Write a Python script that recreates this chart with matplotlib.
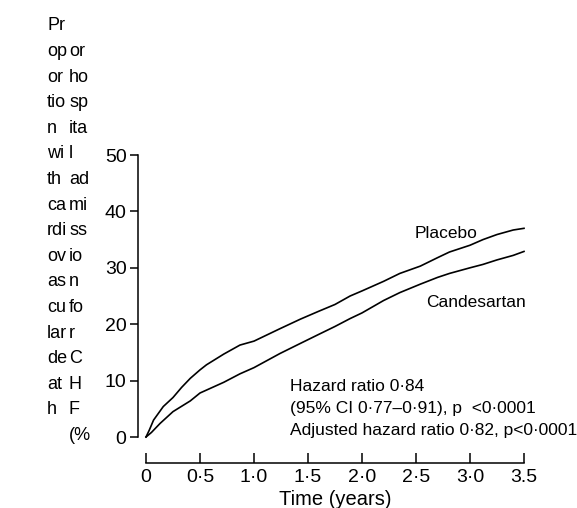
import matplotlib
matplotlib.use("Agg")
import matplotlib.pyplot as plt

plt.rcParams["font.family"] = ["Liberation Sans", "DejaVu Sans"]

# Kaplan-Meier style curves (years, %)
placebo_t = [0, 0.03, 0.07, 0.16, 0.25, 0.33, 0.41, 0.5, 0.56, 0.72, 0.87, 1.0,
             1.24, 1.43, 1.6, 1.75, 1.89, 2.0, 2.2, 2.35, 2.54, 2.7, 2.81, 3.0,
             3.12, 3.25, 3.4, 3.5]
placebo_y = [0, 1.2, 3.0, 5.4, 7.0, 8.8, 10.4, 11.9, 12.8, 14.7, 16.3, 17.0,
             19.2, 20.9, 22.3, 23.5, 25.0, 25.9, 27.6, 29.0, 30.3, 31.8, 32.8, 34.0,
             35.0, 35.9, 36.7, 37.0]
cand_t = [0, 0.05, 0.13, 0.25, 0.41, 0.5, 0.72, 0.87, 1.0, 1.24, 1.43, 1.6,
          1.75, 1.89, 2.0, 2.2, 2.35, 2.54, 2.7, 2.81, 3.0, 3.12, 3.25, 3.4, 3.5]
cand_y = [0, 0.8, 2.4, 4.5, 6.4, 7.8, 9.7, 11.2, 12.3, 14.8, 16.6, 18.2,
          19.6, 21.0, 22.0, 24.2, 25.6, 27.1, 28.3, 29.0, 30.0, 30.6, 31.4, 32.2, 32.9]

x_ticks = [0, 0.5, 1.0, 1.5, 2.0, 2.5, 3.0, 3.5]
x_labels = ["0", "0·5", "1·0", "1·5", "2·0", "2·5", "3·0", "3.5"]
y_ticks = [0, 10, 20, 30, 40, 50]

ylab_col1 = ["Pr", "op", "or", "tio", "n", "wi", "th", "ca", "rdi", "ov",
             "as", "cu", "lar", "de", "at", "h"]
ylab_col2 = ["or", "ho", "sp", "ita", "l", "ad", "mi", "ss", "io", "n",
             "fo", "r", "C", "H", "F", "(%"]

hr_lines = ["Hazard ratio 0·84",
            "(95% CI 0·77\u20130·91), p  <0·0001",
            "Adjusted hazard ratio 0·82, p<0·0001"]

W, H = 577, 508
fig = plt.figure(figsize=(W / 100, H / 100), dpi=100)
ax = fig.add_axes([146 / W, 1 - 437 / H, 378 / W, 282 / H])

ax.plot(placebo_t, placebo_y, color="black", lw=1.2, clip_on=False)
ax.plot(cand_t, cand_y, color="black", lw=1.2, clip_on=False)

ax.set_xlim(0, 3.5)
ax.set_ylim(0, 50)
for s in ["top", "right"]:
    ax.spines[s].set_visible(False)
ax.spines["left"].set_position(("outward", 6))
ax.spines["bottom"].set_position(("outward", 19))
ax.spines["left"].set_linewidth(1.1)
ax.spines["bottom"].set_linewidth(1.1)

ax.set_xticks(x_ticks)
ax.set_xticklabels(x_labels)
ax.set_yticks(y_ticks)
ax.tick_params(axis="x", direction="in", length=7, width=1.1, labelsize=14, pad=4)
ax.tick_params(axis="y", direction="out", length=6, width=1.1, labelsize=14, pad=2)
ax.set_xlabel("Time (years)", fontsize=14.5, labelpad=3)

ax.text(3.07, 36.0, "Placebo", fontsize=12.5, ha="right", va="center")
ax.text(2.59, 23.9, "Candesartan", fontsize=12.5, ha="left", va="center")
for i, line in enumerate(hr_lines):
    ax.text(1.33, 9.0 - i * 3.9, line, fontsize=12.5, ha="left", va="center")

# squeezed y label, two narrow columns of text
row0, step = 26, 25.6
for i, t in enumerate(ylab_col1):
    fig.text(47 / W, 1 - (row0 + i * step) / H, t, fontsize=13, va="center", ha="left")
for i, t in enumerate(ylab_col2):
    fig.text(69 / W, 1 - (row0 + (i + 1) * step) / H, t, fontsize=13, va="center", ha="left")

fig.savefig("out.png", dpi=100)
